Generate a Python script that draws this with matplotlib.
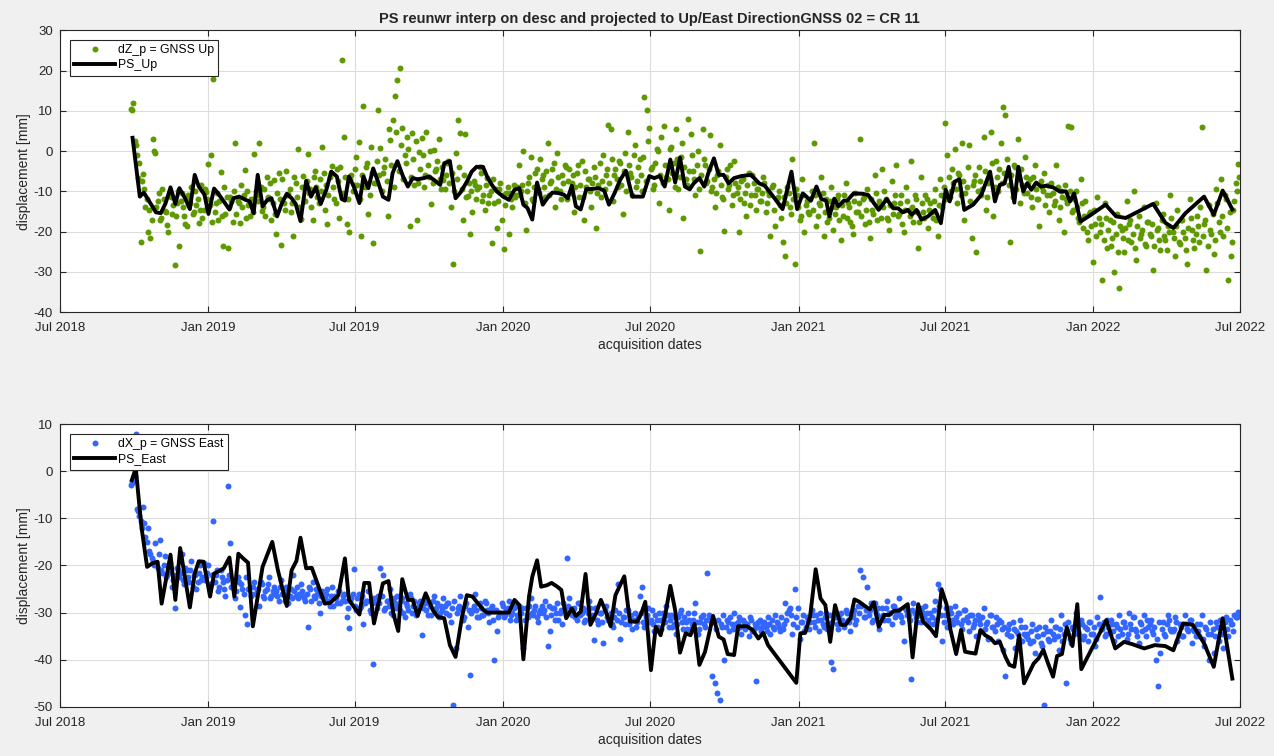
import numpy as np
import pandas as pd
import matplotlib
matplotlib.use('Agg')
import matplotlib.pyplot as plt
import matplotlib.dates as mdates

plt.rcParams['font.family'] = ['Liberation Sans', 'DejaVu Sans']
plt.rcParams['axes.unicode_minus'] = False

# GNSS daily series, read every 3rd day, first sample 2018-09-27;
# second list holds the in-between days (offset 1.5 d)
gnss_start = '2018-09-27'
gnss_start_b = '2018-09-28 12:00'
gnss_up = [
    10.5, 12.0, 1.5, -6.7, -22.5, -5.8, -13.9, -20.0, -21.5, 3.0,
    -0.5, -12.5, -17.2, -9.5, -14.8, -18.3, -11.0, -15.5, -28.3, -13.0,
    -23.6, -10.5, -16.0, -18.5, -12.2, -9.0, -15.2, -13.5, -17.8, -8.4,
    -14.6, -10.2, -3.1, -1.0, 17.8, -12.8, -17.0, -5.2, -23.5, -15.5,
    -24.0, -11.5, -17.5, 2.0, -12.3, -17.8, -14.0, -4.6, -9.8, -16.0,
    -13.5, -0.8, -11.0, 2.1, -14.8, -9.5, -6.5, -12.0, -17.0, -7.2,
    -20.5, -5.5, -23.3, -13.0, -5.0, -10.6, -15.0, -21.0, -8.0, 0.4,
    -16.8, -6.2, -12.5, -0.8, -9.5, -17.2, -5.0, -11.5, -7.0, 1.0,
    -14.5, -18.0, -6.5, -3.8, -12.0, -4.5, -16.5, 22.7, 3.5, -18.0,
    -20.0, -6.0, -8.5, -1.5, 2.2, -21.0, 11.2, -4.0, -15.5, 1.0,
    -22.7, -8.0, 10.3, 0.8, -5.5, -2.0, -16.2, 2.8, 7.6, 13.8,
    17.7, 20.7, 5.8, -1.0, 3.5, -18.5, 4.5, -8.5, -17.0, -0.2,
    3.2, -9.0, 4.8, -6.5, -13.2, 0.2, -4.5, 3.0, -9.5, -7.2,
    -6.0, -2.5, -13.8, -28.0, -0.5, 7.6, 4.6, -17.0, 4.2, -11.2,
    -20.6, -15.0, -8.5, -9.5, -4.0, -12.5, -14.5, -6.8, -11.0, -22.7,
    -13.0, -19.0, -9.5, -17.0, -24.2, -10.5, -20.5, -12.0, -8.5, -11.0,
    -3.5, -10.0, 0.0, -19.6, -8.0, -1.5, -12.5, -5.5, -9.5, -2.0,
    -6.0, -11.5, 2.0, -8.0, -4.5, -14.0, -0.5, -10.0, -6.0, -3.5,
    -12.0, -4.5, -8.0, -15.0, -5.5, -11.5, -2.5, -17.0, -9.0, -7.0,
    -14.0, -4.0, -19.0, -8.5, -11.5, -1.0, -6.0, 6.5, 5.4, -12.5,
    -4.5, -9.0, -3.0, -15.5, -0.5, 4.8, -5.5, -11.0, 1.5, -7.5,
    -2.0, -10.0, 13.5, 10.3, 5.8, -4.0, -8.5, 0.5, -13.0, 3.5,
    6.3, -6.5, -14.5, 1.0, -3.0, 5.5, -9.5, -1.5, -16.5, -7.0,
    8.0, 4.2, -5.0, -11.0, 0.0, -24.8, 5.5, -3.5, -7.5, 4.0,
    -9.0, -14.0, -6.0, 1.5, -11.5, -19.8, -4.5, -8.5, -13.5, -2.5,
    -10.5, -20.0, -7.5, -13.0, -16.0, -5.5, -11.0, -8.0, -14.5, -9.5,
    -12.5, -6.5, -15.0, -10.0, -21.0, -8.5, -18.5, -11.5, -13.5, -22.5,
    -26.0, -9.0, -14.0, -2.0, -28.0, -11.0, -17.0, -7.0, -20.0, -12.5,
    -15.5, -10.0, 2.0, -18.5, -13.0, -6.5, -21.0, -12.0, -16.5, -9.0,
    -19.5, -14.0, -11.0, -22.0, -16.0, -8.0, -13.0, -17.5, -20.5, -10.5,
    -15.0, 3.0, -12.0, -18.0, -9.5, -21.5, -14.5, -6.0, -17.0, -12.5,
    -4.5, -10.0, -16.5, -19.5, -7.5, -13.0, -3.5, -15.5, -11.0, -20.0,
    -9.0, -14.5, -2.5, -17.5, -12.0, -24.0, -6.5, -15.0, -11.0, -19.0,
    -13.0, -16.5, -9.5, -21.0, -7.0, -14.0, 7.0, -1.0, -11.5, -4.5,
    0.5, -13.0, -6.0, 2.0, -17.0, -9.0, 1.5, -21.5, -7.5, -25.0,
    -4.0, -11.0, 3.5, -14.5, -8.0, 4.8, -16.0, -2.5, -10.0, 2.0,
    11.0, 9.0, -6.0, -22.5, -11.5, -4.0, 3.0, -13.0, -8.5, -1.5,
    -10.5, -7.0, -14.0, -3.5, -12.0, -18.5, -9.0, -5.5, -11.0, -15.0,
    -8.0, -13.5, -3.5, -17.0, -10.0, -20.0, -12.0, 6.3, 6.0, -14.5,
    -10.0, -16.5, -7.0, -19.0, -12.5, -22.0, -15.0, -27.5, -18.0, -11.5,
    -20.0, -32.0, -13.0, -24.0, -17.0, -21.5, -30.0, -15.5, -34.0, -19.5,
    -25.0, -12.5, -18.0, -22.5, -10.0, -27.0, -16.0, -20.5, -14.0, -23.5,
    -17.5, -21.0, -29.5, -13.0, -19.0, -24.5, -15.5, -22.0, -18.5, -11.0,
    -20.0, -26.0, -14.5, -23.0, -17.0, -21.5, -28.0, -12.0, -19.5, -24.0,
    -16.0, -22.5, 6.0, -18.0, -29.5, -13.5, -20.5, -25.5, -9.5, -17.5,
    -7.0, -21.0, -12.0, -32.0, -26.0, -14.5, -8.0, -3.3,
]
gnss_up_b = [
    10.3, 2.5, -1.0, -3.0, -7.5, -9.5, -12.0, -14.5, -17.0, 0.0,
    -14.0, -10.5, -16.5, -12.0, -15.0, -20.2, -11.5, -13.5, -16.0, -9.8,
    -12.5, -14.0, -18.0, -11.0, -13.0, -15.5, -10.0, -12.0, -14.5, -16.5,
    -9.5, -12.0, -13.5, -17.5, -15.0, -10.5, -12.5, -16.0, -9.0, -11.5,
    -14.0, -12.5, -10.0, -15.5, -13.0, -8.5, -11.0, -16.5, -13.5, -12.0,
    -15.0, -10.0, -12.5, -9.0, -14.0, -16.0, -11.5, -8.0, -13.0, -15.5,
    -10.5, -12.0, -7.0, -14.5, -11.0, -9.5, -13.0, -6.5, -11.5, -14.0,
    -9.0, -12.5, -7.5, -10.5, -14.0, -6.5, -9.0, -13.0, -10.0, -5.5,
    -8.5, -11.0, -5.5, -9.0, -13.0, -7.5, -4.0, -10.5, -6.5, -12.0,
    -7.0, -10.0, -4.5, -8.5, -12.0, -6.0, -9.0, -3.0, -11.0, -5.5,
    -8.0, -2.5, -6.0, -10.0, -4.0, -7.5, 5.5, -3.5, -9.0, 4.8,
    -5.0, 1.5, -7.0, -3.0, 0.5, -6.5, -2.0, 2.5, -8.0, -4.5,
    -1.0, -6.0, -3.5, 0.0, -8.0, -5.0, -2.5, -7.0, -4.0, -9.5,
    -3.0, -8.0, -5.5, -10.0, -7.0, -4.0, -9.5, -6.0, -11.5, -8.0,
    -10.0, -7.5, -12.0, -9.0, -5.5, -11.0, -8.5, -13.0, -10.0, -7.0,
    -9.5, -12.5, -8.0, -11.0, -13.5, -9.0, -10.5, -14.0, -11.5, -9.0,
    -11.0, -8.5, -13.0, -10.0, -6.5, -12.0, -9.0, -4.5, -10.5, -7.0,
    -9.0, -5.0, -11.0, -7.5, -3.0, -9.5, -6.5, -12.0, -8.0, -4.0,
    -7.5, -10.5, -6.0, -9.0, -3.5, -8.5, -11.5, -5.0, -7.0, -10.0,
    -8.0, -6.5, -10.5, -3.0, -7.5, -9.5, -4.5, -8.0, -2.0, -6.0,
    -7.0, -2.5, -8.5, -5.0, -10.0, -3.5, -6.5, -1.0, -9.0, -4.0,
    -6.0, -1.5, -7.5, 2.5, -4.5, -9.5, -3.0, 0.0, -6.0, -8.0,
    -3.5, -7.0, 0.5, -5.5, -9.0, -2.0, -6.5, 2.0, -4.0, -8.5,
    -5.0, -1.0, -7.0, -3.5, -9.5, -6.0, -2.0, -8.0, -4.5, -10.0,
    -7.0, -10.5, -5.0, -8.5, -12.0, -6.5, -9.5, -3.5, -11.0, -8.0,
    -9.0, -12.0, -7.0, -10.5, -8.5, -13.5, -6.0, -11.0, -9.5, -12.5,
    -10.5, -8.0, -13.0, -11.0, -9.0, -14.5, -12.0, -10.0, -16.5, -11.5,
    -13.0, -10.5, -15.5, -12.0, -9.5, -14.0, -16.0, -11.0, -13.5, -15.0,
    -12.0, -14.5, -11.0, -16.0, -13.5, -10.5, -15.0, -17.5, -12.5, -14.0,
    -15.5, -12.0, -17.0, -13.5, -11.0, -16.5, -14.0, -18.5, -12.5, -15.0,
    -13.0, -16.0, -11.5, -14.5, -17.5, -12.0, -15.5, -10.5, -13.5, -16.5,
    -14.0, -12.0, -17.0, -13.5, -15.5, -11.0, -16.0, -13.0, -18.0, -14.5,
    -12.5, -16.0, -14.0, -11.0, -15.0, -17.5, -13.0, -16.5, -12.0, -14.5,
    -15.0, -12.5, -17.0, -13.5, -11.0, -9.0, -12.0, -6.5, -10.0, -8.0,
    -9.5, -5.5, -11.0, -7.5, -10.5, -4.0, -12.5, -8.5, -6.0, -10.0,
    -7.5, -9.5, -5.0, -11.5, -7.0, -3.0, -9.0, -6.5, -4.5, -8.0,
    -5.5, -2.0, -8.5, -6.0, -3.5, -9.5, -7.0, -4.5, -10.5, -6.5,
    -8.0, -11.5, -6.5, -9.5, -12.0, -7.5, -10.0, -13.5, -8.5, -11.0,
    -10.5, -12.5, -9.0, -14.0, -11.5, -8.5, -13.0, -10.0, -15.0, -12.0,
    -14.0, -17.5, -13.0, -16.0, -20.0, -15.5, -18.5, -14.5, -21.0, -16.5,
    -18.0, -22.0, -16.5, -19.5, -23.5, -17.5, -20.5, -25.0, -18.5, -21.5,
    -19.0, -22.0, -17.0, -20.5, -24.0, -18.5, -21.5, -19.5, -23.0, -17.5,
    -20.5, -18.0, -23.5, -19.5, -22.0, -17.0, -21.0, -24.5, -20.0, -16.5,
    -21.5, -18.5, -22.5, -17.0, -20.0, -24.5, -19.0, -16.5, -22.0, -20.5,
    -18.5, -14.0, -21.0, -17.0, -23.5, -19.5, -15.5, -22.0, -13.0, -20.0,
    -16.0, -11.0, -19.0, -15.0, -22.5, -12.5, -10.0, -6.5,
]
gnss_east = [
    -3.0, -2.0, 7.8, -8.5, -10.5, -7.5, -14.0, -12.0, -17.5, -19.0,
    -15.3, -20.5, -14.6, -21.5, -18.0, -22.0, -19.5, -24.5, -29.0, -20.5,
    -22.5, -17.5, -24.0, -21.0, -23.5, -19.0, -22.0, -25.0, -21.5, -23.0,
    -19.5, -22.5, -20.0, -24.0, -10.6, -22.0, -25.5, -21.0, -23.5, -26.5,
    -3.2, -15.2, -24.0, -27.0, -22.5, -28.8, -25.0, -30.5, -32.5, -24.5,
    -26.0, -23.5, -25.5, -28.5, -24.0, -27.0, -25.0, -22.5, -26.5, -24.5,
    -25.5, -27.5, -23.0, -26.0, -24.5, -28.0, -25.0, -22.0, -26.5, -27.0,
    -24.0, -26.5, -27.5, -33.0, -25.0, -23.5, -27.0, -26.0, -30.0, -25.5,
    -27.0, -25.0, -28.5, -24.5, -26.5, -28.0, -25.5, -27.5, -26.0, -31.0,
    -33.3, -27.0, -20.8, -29.5, -26.0, -28.5, -32.5, -27.5, -25.5, -30.0,
    -41.0, -28.0, -26.5, -20.5, -22.0, -29.0, -27.5, -25.0, -30.5, -28.0,
    -26.5, -29.5, -27.0, -31.0, -28.5, -26.0, -30.0, -27.5, -29.0, -28.0,
    -34.7, -27.5, -29.5, -28.0, -30.5, -26.5, -29.0, -31.0, -28.5, -27.0,
    -30.0, -28.0, -32.0, -49.6, -37.5, -29.0, -26.5, -31.5, -28.5, -33.0,
    -43.2, -29.5, -26.0, -31.0, -28.0, -30.5, -27.5, -29.5, -32.0, -28.5,
    -40.0, -34.0, -30.0, -28.0, -31.0, -29.5, -27.5, -30.5, -29.0, -31.5,
    -28.5, -30.0, -37.5, -29.0, -31.0, -27.0, -30.5, -28.5, -32.0, -29.5,
    -30.0, -27.5, -37.0, -34.0, -29.0, -31.5, -28.0, -30.0, -32.5, -29.5,
    -18.5, -27.0, -30.5, -29.0, -31.5, -28.0, -30.0, -32.0, -29.5, -27.5,
    -31.0, -35.8, -29.0, -32.5, -30.0, -36.5, -28.5, -31.5, -30.0, -33.0,
    -29.5, -24.0, -35.5, -31.0, -32.5, -29.5, -31.5, -33.5, -30.0, -32.0,
    -26.5, -24.5, -33.0, -30.5, -32.0, -29.5, -34.0, -31.5, -30.0, -33.5,
    -31.0, -28.5, -33.0, -30.5, -32.5, -34.5, -31.0, -29.5, -33.5, -32.0,
    -30.0, -33.5, -31.5, -28.0, -34.5, -32.0, -30.5, -33.0, -21.5, -31.0,
    -43.5, -45.0, -47.0, -48.5, -33.0, -40.0, -31.5, -34.0, -32.5, -30.0,
    -33.5, -31.0, -34.5, -32.0, -33.0, -35.0, -31.5, -33.5, -44.5, -32.0,
    -34.0, -32.5, -33.0, -31.0, -34.5, -33.0, -30.5, -32.5, -34.0, -33.5,
    -28.0, -30.0, -29.0, -34.5, -25.0, -33.0, -35.5, -32.0, -34.0, -31.0,
    -33.5, -29.5, -32.0, -30.5, -34.0, -31.5, -33.0, -30.0, -32.5, -40.5,
    -42.0, -31.0, -33.5, -30.0, -32.0, -29.5, -31.5, -34.0, -30.5, -32.5,
    -28.5, -21.0, -22.5, -31.0, -24.5, -29.5, -32.0, -28.0, -30.5, -33.5,
    -29.0, -31.5, -27.5, -30.0, -32.5, -28.5, -30.0, -27.0, -31.0, -36.0,
    -29.5, -30.5, -44.0, -28.0, -31.0, -29.0, -32.0, -30.0, -28.5, -31.5,
    -30.0, -32.5, -27.5, -24.0, -25.0, -36.0, -30.5, -33.0, -29.0, -31.5,
    -28.5, -32.0, -30.0, -33.5, -29.5, -31.0, -34.0, -30.5, -32.5, -35.0,
    -31.5, -34.0, -29.0, -32.5, -35.5, -30.5, -33.0, -31.0, -36.0, -32.0,
    -38.0, -43.5, -33.5, -35.0, -32.0, -37.5, -34.5, -31.5, -36.0, -33.0,
    -34.5, -36.5, -32.5, -38.5, -35.0, -33.0, -37.0, -49.6, -34.0, -36.0,
    -31.5, -35.5, -33.0, -38.0, -30.5, -34.5, -45.0, -32.0, -36.5, -33.5,
    -30.0, -34.0, -31.5, -35.5, -33.0, -36.0, -32.0, -34.5, -37.0, -31.0,
    -26.6, -33.5, -35.0, -31.5, -34.0, -32.5, -36.0, -33.0, -30.5, -34.5,
    -32.0, -35.5, -30.0, -33.5, -31.0, -34.0, -36.5, -32.5, -30.5, -35.0,
    -33.0, -31.5, -34.5, -40.0, -45.5, -38.5, -32.0, -35.0, -30.5, -33.5,
    -34.0, -31.0, -36.0, -32.5, -35.0, -30.5, -33.5, -31.5, -36.5, -34.0,
    -32.5, -35.0, -30.5, -37.0, -33.5, -40.0, -34.5, -38.5, -32.0, -36.0,
    -33.0, -37.5, -31.0, -35.0, -32.5, -34.0, -31.0, -29.8,
]
gnss_east_b = [
    -2.5, -1.0, -8.0, -9.5, -12.0, -11.0, -15.0, -17.0, -18.5, -20.0,
    -19.5, -17.5, -21.0, -20.0, -22.5, -21.5, -20.5, -23.0, -22.0, -21.0,
    -21.5, -23.0, -20.5, -22.5, -21.0, -24.5, -22.0, -23.5, -20.0, -22.5,
    -23.0, -21.5, -24.0, -22.0, -23.5, -21.0, -24.5, -22.5, -25.0, -23.0,
    -22.0, -24.5, -23.0, -25.5, -23.5, -24.0, -26.0, -22.5, -25.0, -26.5,
    -24.5, -26.0, -25.0, -23.5, -26.5, -25.5, -24.0, -27.0, -25.5, -26.0,
    -26.5, -24.5, -26.0, -27.5, -25.0, -26.5, -27.0, -25.5, -24.5, -26.0,
    -25.5, -27.0, -26.0, -24.5, -27.5, -26.5, -25.0, -28.0, -26.5, -27.0,
    -26.0, -27.5, -26.5, -28.5, -27.0, -25.5, -28.0, -26.5, -27.5, -29.0,
    -27.5, -26.0, -28.5, -27.0, -29.0, -26.5, -28.0, -27.5, -29.5, -28.0,
    -27.0, -29.0, -28.0, -26.5, -29.5, -27.5, -28.5, -30.0, -27.0, -29.0,
    -28.5, -27.5, -30.0, -28.0, -29.5, -27.0, -28.5, -30.5, -29.0, -27.5,
    -29.0, -28.0, -30.5, -28.5, -27.5, -29.5, -28.0, -30.0, -29.5, -28.5,
    -28.0, -30.5, -29.0, -27.5, -30.0, -28.5, -29.5, -31.0, -28.0, -29.5,
    -30.0, -28.5, -29.5, -31.0, -29.0, -30.5, -28.0, -30.0, -29.0, -31.5,
    -29.5, -31.0, -30.0, -28.5, -30.5, -29.0, -31.5, -30.0, -28.5, -30.5,
    -30.0, -29.0, -31.5, -30.5, -28.5, -30.0, -29.5, -31.0, -30.0, -28.5,
    -29.5, -31.0, -28.5, -30.5, -29.0, -30.0, -31.5, -29.5, -28.0, -30.5,
    -28.5, -30.0, -29.5, -31.0, -28.0, -30.5, -29.0, -31.5, -30.0, -29.0,
    -30.5, -29.0, -31.5, -30.0, -32.0, -29.5, -31.0, -30.5, -32.5, -31.0,
    -31.5, -30.0, -32.0, -31.0, -29.5, -32.5, -30.5, -31.5, -33.0, -31.0,
    -30.0, -32.0, -31.0, -29.0, -31.5, -32.5, -30.5, -33.0, -31.5, -30.0,
    -32.0, -30.5, -31.5, -33.0, -31.0, -32.5, -30.0, -32.0, -31.0, -33.5,
    -31.5, -32.5, -30.0, -32.0, -33.5, -31.0, -32.5, -31.5, -30.5, -32.0,
    -32.0, -33.5, -31.5, -32.5, -30.5, -33.0, -32.0, -31.0, -33.5, -32.5,
    -32.0, -33.0, -31.5, -33.5, -32.5, -31.0, -34.0, -32.5, -33.0, -31.5,
    -33.0, -32.0, -34.0, -32.5, -31.5, -33.5, -32.0, -33.0, -31.0, -32.5,
    -31.5, -29.5, -30.5, -32.5, -31.0, -29.0, -32.0, -30.5, -33.0, -31.5,
    -32.0, -30.5, -33.0, -31.5, -30.0, -32.5, -31.0, -33.5, -30.5, -32.0,
    -31.0, -32.5, -30.5, -31.5, -33.0, -30.0, -32.0, -31.0, -29.5, -31.5,
    -30.0, -28.5, -31.0, -29.5, -30.5, -28.0, -31.5, -30.0, -29.0, -31.0,
    -30.5, -29.0, -31.5, -30.0, -28.5, -31.0, -29.5, -30.5, -32.0, -29.0,
    -30.5, -31.5, -29.5, -30.0, -32.0, -30.5, -29.0, -31.0, -30.0, -32.5,
    -31.0, -29.5, -31.5, -28.5, -30.5, -32.0, -29.0, -31.5, -30.0, -32.5,
    -31.0, -30.0, -32.5, -31.5, -29.5, -32.0, -30.5, -33.0, -31.5, -30.5,
    -32.5, -31.0, -33.5, -32.0, -30.5, -33.0, -34.0, -32.5, -31.5, -33.5,
    -33.0, -34.5, -32.5, -35.0, -33.5, -34.0, -35.5, -33.0, -34.5, -35.0,
    -35.5, -34.0, -36.0, -33.5, -35.0, -36.5, -34.5, -33.0, -35.5, -34.0,
    -34.5, -33.0, -35.0, -33.5, -36.0, -32.5, -34.0, -35.5, -33.0, -34.5,
    -33.0, -34.5, -32.5, -35.0, -33.5, -32.0, -34.5, -33.0, -35.5, -32.5,
    -33.5, -32.0, -34.5, -33.0, -31.5, -34.0, -32.5, -35.0, -33.5, -32.0,
    -33.0, -34.5, -32.5, -31.0, -33.5, -35.0, -32.0, -34.0, -33.5, -31.5,
    -32.5, -34.0, -33.0, -35.5, -32.0, -33.5, -34.5, -32.5, -31.5, -34.0,
    -33.5, -32.0, -34.5, -33.0, -35.0, -32.5, -34.0, -31.5, -33.5, -35.0,
    -34.0, -32.5, -35.5, -33.0, -34.5, -32.0, -33.5, -35.0, -33.0, -31.5,
    -34.5, -32.0, -33.5, -31.5, -32.5, -30.5, -31.0, -30.0,
]

# PS time series: acquisition day counted from 2018-07-01, value in mm
ps_origin = '2018-07-01'
ps_up_day = [
    90, 99, 104, 112, 119, 125, 131, 137, 143, 148, 155, 161, 167, 172, 179,
    184, 191, 197, 203, 210, 215, 222, 230, 235, 240, 245, 251, 257, 262, 269,
    275, 281, 287, 292, 298, 305, 311, 317, 323, 330, 336, 343, 349, 353, 358,
    364, 371, 376, 382, 388, 394, 400, 407, 412, 418, 425, 431, 437, 443, 451,
    457, 463, 471, 476, 483, 490, 496, 504, 510, 516, 524, 529, 535, 541, 549,
    556, 563, 569, 574, 579, 585, 591, 598, 605, 610, 617, 624, 629, 634, 639,
    645, 652, 659, 667, 674, 680, 687, 694, 701, 709, 722, 730, 736, 743, 749,
    756, 762, 768, 774, 780, 785, 792, 798, 803, 810, 816, 822, 828, 835, 844,
    856, 866, 873, 885, 895, 906, 913, 920, 930, 937, 943, 949, 953, 959, 964,
    971, 975, 983, 994, 1001, 1006, 1014, 1024, 1032, 1038, 1044, 1050, 1055,
    1061, 1067, 1075, 1084, 1091, 1097, 1102, 1108, 1114, 1120, 1131, 1141,
    1152, 1158, 1164, 1170, 1175, 1182, 1187, 1193, 1198, 1203, 1209, 1215,
    1221, 1230, 1238, 1246, 1251, 1256, 1264, 1277, 1295, 1308, 1320, 1354,
    1369, 1379, 1394, 1417, 1429, 1440, 1446, 1452,
]
ps_up = [
    3.3, -11.3, -10.3, -12.9, -15.2, -15.4, -12.9, -9.0, -13.1, -9.2, -11.7, -14.4, -5.9, -8.8, -10.8,
    -15.6, -9.3, -10.8, -12.5, -14.5, -11.7, -11.3, -12.1, -12.5, -15.4, -5.9, -13.7, -12.1, -11.7, -16.2,
    -12.9, -10.6, -11.7, -13.1, -17.4, -7.4, -11.3, -9.0, -13.1, -9.6, -5.1, -6.3, -11.9, -12.3, -6.3,
    -8.8, -12.9, -6.3, -9.2, -4.3, -7.6, -11.3, -12.1, -5.5, -2.5, -6.3, -8.8, -6.7, -7.0, -6.7,
    -6.3, -7.1, -8.4, -3.0, -2.5, -11.7, -10.3, -7.6, -5.1, -3.9, -3.9, -6.3, -8.4, -10.0, -11.3,
    -12.1, -9.6, -9.2, -13.3, -14.1, -17.0, -7.8, -13.3, -11.3, -10.3, -10.4, -10.8, -11.7, -8.6, -13.7,
    -14.5, -9.4, -9.4, -9.2, -9.8, -13.3, -10.4, -7.1, -4.9, -11.3, -11.3, -6.2, -6.7, -6.2, -8.8,
    -2.1, -7.8, -1.6, -8.8, -9.5, -8.0, -6.7, -8.8, -5.5, -1.8, -5.9, -5.9, -8.0, -6.7, -6.2,
    -5.9, -8.0, -8.6, -11.7, -14.4, -5.1, -14.4, -10.5, -12.3, -8.8, -11.9, -12.3, -16.2, -11.8, -13.7,
    -12.3, -12.3, -10.5, -10.6, -10.9, -12.3, -14.6, -11.9, -14.2, -14.2, -15.2, -14.6, -15.8,
    -14.6, -17.0, -16.2, -14.6, -17.9, -9.6, -12.5, -7.6, -7.0, -14.6, -13.3, -10.9,
    -5.1, -12.5, -8.4, -8.0, -3.9, -12.8, -3.9, -10.0, -8.0, -9.6, -7.8, -8.8,
    -8.6, -9.0, -10.0, -10.0, -12.5, -10.5, -17.5, -15.8, -13.3, -16.2, -16.6, -13.1,
    -17.8, -19.1, -15.4, -11.3, -15.8, -9.8, -12.1, -14.5,
]
ps_east_day = [
    89, 94, 101, 108, 114, 121, 126, 137, 143, 149, 161, 167, 172, 178, 186,
    191, 197, 203, 210, 216, 221, 227, 233, 239, 251, 263, 270, 281, 287, 293,
    298, 305, 312, 328, 335, 345, 353, 358, 371, 377, 383, 389, 400, 407, 413,
    419, 424, 431, 437, 443, 453, 462, 468, 476, 483, 490, 498, 504, 511, 518,
    525, 529, 549, 556, 563, 569, 574, 581, 585, 591, 596, 603, 609, 616, 621,
    627, 634, 639, 645, 651, 657, 664, 670, 677, 682, 688, 699, 706, 715, 720,
    725, 732, 738, 744, 750, 756, 762, 768, 775, 781, 786, 792, 799, 809, 816,
    822, 827, 835, 840, 851, 858, 865, 871, 877, 912, 917, 923, 929, 936, 942,
    948, 954, 960, 967, 973, 979, 984, 990, 997, 1003, 1008, 1014, 1021, 1027,
    1033, 1039, 1050, 1056, 1063, 1069, 1079, 1085, 1092, 1098, 1103, 1110,
    1116, 1121, 1127, 1134, 1140, 1146, 1153, 1158, 1164, 1171, 1176, 1182,
    1188, 1194, 1206, 1212, 1218, 1223, 1230, 1235, 1241, 1247, 1254, 1260,
    1265, 1296, 1307, 1318, 1328, 1343, 1356, 1369, 1379, 1391, 1403, 1417,
    1429, 1440, 1452,
]
ps_east = [
    -1.9, 0.6, -11.8, -20.3, -19.6, -19.2, -28.1, -17.7, -27.3, -16.3, -28.9, -21.7, -19.1, -19.2, -26.6,
    -21.7, -21.2, -20.6, -18.3, -26.6, -17.5, -18.5, -19.4, -32.9, -20.3, -15.0, -21.0, -28.6, -21.0, -19.0,
    -14.1, -20.6, -20.5, -28.1, -27.9, -26.3, -18.5, -27.3, -30.4, -23.7, -23.7, -32.3, -23.8, -23.3, -30.2,
    -33.9, -22.9, -27.3, -27.3, -30.7, -25.9, -29.5, -30.9, -31.2, -36.9, -39.4, -30.9, -26.3, -26.6, -28.1,
    -29.5, -30.0, -30.0, -30.0, -27.3, -28.4, -39.9, -26.6, -22.4, -18.9, -24.5, -24.2, -23.7, -24.5, -25.2,
    -31.2, -29.1, -30.7, -29.8, -21.8, -32.6, -30.2, -27.3, -30.2, -32.9, -26.3, -22.3, -31.9, -31.9, -30.2,
    -27.7, -42.2, -33.0, -34.8, -30.2, -24.3, -29.5, -38.5, -34.4, -34.8, -32.4, -41.1, -38.3, -30.7, -35.1,
    -35.7, -38.8, -39.0, -32.9, -32.9, -33.7, -35.5, -34.3, -36.9, -44.9, -34.4, -34.3, -30.9, -20.8, -27.0,
    -28.4, -36.2, -28.4, -32.6, -32.6, -31.2, -27.2, -27.7, -28.6, -29.3, -27.8, -33.0, -30.5, -30.5,
    -29.6, -29.6, -28.2, -39.5, -28.2, -31.9, -33.6, -35.0, -25.1, -28.2, -33.7, -38.8,
    -33.7, -38.3, -38.5, -38.7, -33.7, -34.8, -35.5, -36.5, -36.2, -39.4, -41.1, -41.5,
    -34.8, -45.0, -40.8, -39.7, -37.9, -40.4, -43.6, -39.2, -38.8, -33.1, -37.1, -28.2,
    -42.0, -31.6, -37.6, -36.2, -36.7, -37.6, -36.9, -37.1, -38.0, -32.3, -32.6, -36.5,
    -41.5, -31.2, -44.0,
]

title = 'PS reunwr interp on desc and projected to Up/East DirectionGNSS 02 = CR 11'


def gnss_dates(start, vals):
    return pd.date_range(start, periods=len(vals), freq='3D')


ps_up_dates = pd.Timestamp(ps_origin) + pd.to_timedelta(ps_up_day, unit='D')
ps_east_dates = pd.Timestamp(ps_origin) + pd.to_timedelta(ps_east_day, unit='D')

fig = plt.figure(figsize=(12.74, 7.56), dpi=100, facecolor='#f0f0f0')
ax1 = fig.add_axes([0.047, 0.587, 0.926, 0.373])
ax2 = fig.add_axes([0.047, 0.065, 0.926, 0.374])

panels = [
    (ax1, gnss_up, gnss_up_b, ps_up_dates, ps_up, '#5f9900',
     'dZ_p = GNSS Up', 'PS_Up', (-40, 30)),
    (ax2, gnss_east, gnss_east_b, ps_east_dates, ps_east, '#3366ff',
     'dX_p = GNSS East', 'PS_East', (-50, 10)),
]

for ax, ga, gb, pdates, pv, col, glab, plab, ylim in panels:
    gd = gnss_dates(gnss_start, ga).append(gnss_dates(gnss_start_b, gb))
    gv = list(ga) + list(gb)
    ax.plot(gd, gv, linestyle='none', marker='o', markersize=4.3,
            color=col, markeredgewidth=0, label=glab)
    ax.plot(pdates, pv, color='black', linewidth=2.8, label=plab)
    ax.set_xlim(pd.Timestamp('2018-07-01'), pd.Timestamp('2022-07-01'))
    ax.set_ylim(*ylim)
    ax.set_yticks(np.arange(ylim[0], ylim[1] + 1, 10))
    ax.xaxis.set_major_locator(mdates.MonthLocator(bymonth=[1, 7]))
    ax.xaxis.set_major_formatter(mdates.DateFormatter('%b %Y'))
    ax.grid(True, color='#dcdcdc', linewidth=0.8)
    ax.set_axisbelow(True)
    ax.tick_params(direction='in', length=4, top=True, right=True,
                   labelsize=9.5, colors='#262626', width=0.8)
    ax.tick_params(axis='x', pad=7)
    ax.tick_params(axis='y', pad=5)
    for s in ax.spines.values():
        s.set_color('#262626')
        s.set_linewidth(0.8)
    ax.set_xlabel('acquisition dates', fontsize=10, color='#262626', labelpad=3)
    ax.set_ylabel('displacement [mm]', fontsize=10, color='#262626', labelpad=2)
    leg = ax.legend(loc='upper left', fontsize=8.8, frameon=True, fancybox=False,
                    borderaxespad=0.8, handlelength=3.4, handletextpad=0.2,
                    borderpad=0.35, labelspacing=0.25)
    leg.get_frame().set_edgecolor('#262626')
    leg.get_frame().set_linewidth(0.8)
    leg.get_frame().set_alpha(1)

ax1.set_title(title, fontsize=10.5, fontweight='bold', color='#262626', pad=5)

fig.savefig('out.png', dpi=100, facecolor=fig.get_facecolor())
